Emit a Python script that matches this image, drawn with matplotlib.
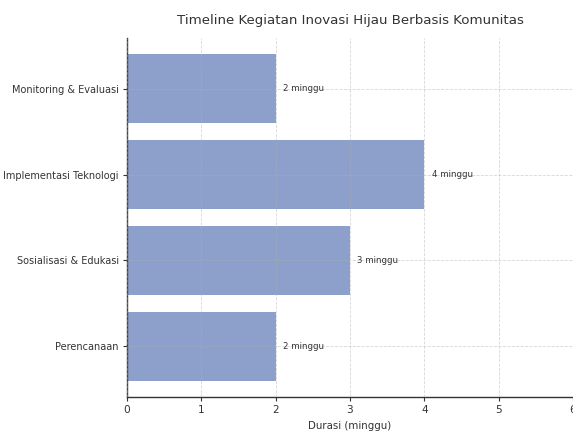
import matplotlib.pyplot as plt

plt.rcParams['font.family'] = ['DejaVu Sans']

# Durasi tiap kegiatan (minggu)
kegiatan = ['Perencanaan', 'Sosialisasi & Edukasi', 'Implementasi Teknologi', 'Monitoring & Evaluasi']
durasi = [2, 3, 4, 2]
xticks = [0, 1, 2, 3, 4, 5, 6]

text_color = '#333333'

fig = plt.figure(figsize=(5.73, 4.34), dpi=100)
ax = fig.add_axes([127 / 573, 1 - 397 / 434, 446 / 573, 359 / 434])

bars = ax.barh(kegiatan, durasi, height=0.8, color='#8da0cb', zorder=1)

# Label durasi di samping tiap bar
for bar, d in zip(bars, durasi):
    ax.text(bar.get_width() + 0.1, bar.get_y() + bar.get_height() / 2,
            f'{d} minggu', va='center', ha='left', fontsize=6.2, color=text_color)

ax.set_xlim(0, 6)
ax.set_ylim(-0.59, 3.59)
ax.set_xticks(xticks)
ax.grid(True, linestyle='--', color='#b0b0b0', alpha=0.5, linewidth=0.6, zorder=2)
ax.set_axisbelow(False)

for side in ['top', 'right']:
    ax.spines[side].set_visible(False)
for side in ['left', 'bottom']:
    ax.spines[side].set_color(text_color)
    ax.spines[side].set_linewidth(1.0)

ax.tick_params(axis='both', labelsize=7.0, colors=text_color, length=3, pad=3)
ax.tick_params(axis='x', labelsize=7.6)
ax.set_xlabel('Durasi (minggu)', fontsize=7.4, color=text_color, labelpad=4)
ax.set_title('Timeline Kegiatan Inovasi Hijau Berbasis Komunitas',
             fontsize=9.6, color=text_color, pad=10)

fig.savefig('out.png', dpi=100)
